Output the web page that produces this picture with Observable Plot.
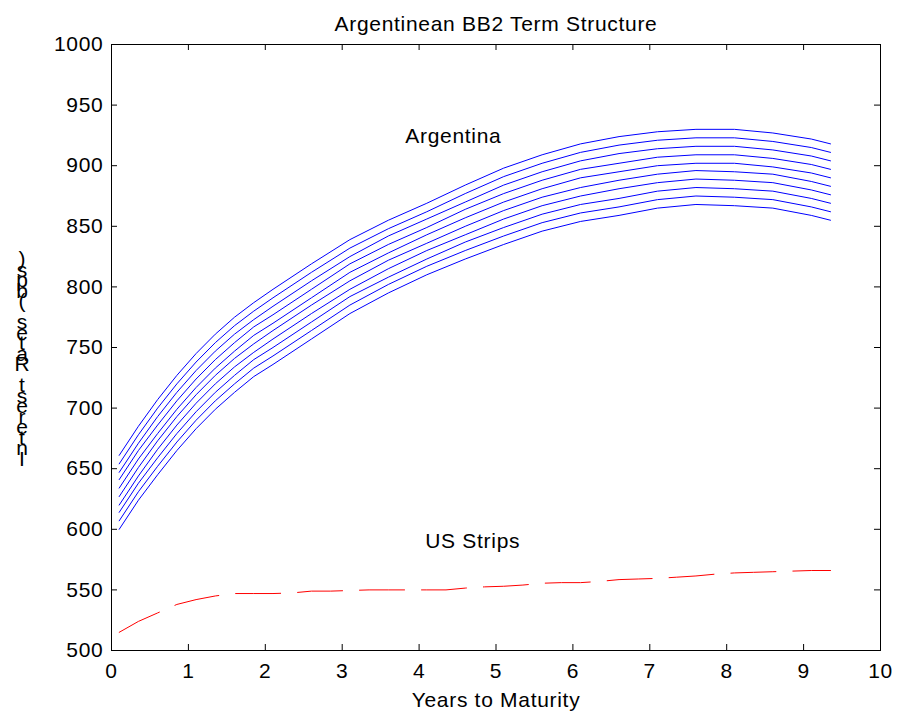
<!DOCTYPE html>
<html>
<head>
<meta charset="utf-8">
<script src="https://cdn.jsdelivr.net/npm/d3@7"></script>
<script src="https://cdn.jsdelivr.net/npm/@observablehq/plot@0.6"></script>
<style>
  body { margin: 0; background: #fff; }
  #wrap { position: relative; width: 898px; height: 717px; font-family: "Liberation Sans", Arial, sans-serif; }
  #ylab { position: absolute; left: 14px; top: 254px; display: flex; flex-direction: column-reverse; font-size: 21px; color: #000; }
  #ylab span { display: block; height: 10.5px; line-height: 10.5px; white-space: pre; text-align: center; width: 16px; }
</style>
</head>
<body>
<div id="wrap"></div>
<script>
// ---- data ----
const titleText = "Argentinean BB2 Term Structure";
const xLabelText = "Years to Maturity";
const yLabelText = "Interest Rates (bps)";

const xTicks = [0, 1, 2, 3, 4, 5, 6, 7, 8, 9, 10];
const yTicks = [500, 550, 600, 650, 700, 750, 800, 850, 900, 950, 1000];

// Argentina curves (years to maturity)
const argYears = [0.1, 0.35, 0.6, 0.85, 1.1, 1.35, 1.6, 1.85, 2.1, 2.6, 3.1, 3.6, 4.1, 4.6, 5.1, 5.6, 6.1, 6.6, 7.1, 7.6, 8.1, 8.6, 9.1, 9.35];
const arg1  = [661,685,707,727,745,761,775,787,798,819,839,855,869,884,898,909,918,924,928,930,930,927,922,918];
const arg2  = [654,678,700,720,738,754,768,780,791,812,832,848,862,877,891,902,911,917,921,923,923,920,915,911];
const arg3  = [647,671,693,713,731,747,761,773,784,805,825,842,856,870,884,895,904,910,914,916,916,913,908,904];
const arg4  = [641,665,686,706,724,740,754,767,777,798,819,835,849,864,877,888,897,902,907,909,909,906,901,897];
const arg5  = [634,658,679,699,717,733,747,760,770,791,812,828,843,857,870,881,890,895,900,902,902,899,894,890];
const arg6  = [627,651,673,693,711,727,741,753,764,785,805,822,836,850,863,874,882,888,893,896,895,893,887,883];
const arg7  = [620,644,666,686,704,720,734,746,757,778,798,815,830,843,856,867,875,881,886,889,888,886,880,876];
const arg8  = [614,638,659,679,697,713,727,740,750,771,792,808,823,837,849,860,868,873,879,882,881,879,873,869];
const arg9  = [607,631,652,672,690,706,720,733,743,764,785,802,817,830,842,853,861,866,872,875,874,872,866,862];
const arg10 = [600,624,645,665,683,699,713,726,736,757,778,795,810,823,835,846,854,859,865,868,867,865,859,855];

// US Strips curve
const usYears = [0.1,0.35,0.6,0.85,1.1,1.35,1.6,1.85,2.1,2.35,2.6,2.85,3.1,3.35,3.6,3.85,4.1,4.35,4.6,4.85,5.1,5.35,5.6,5.85,6.1,6.35,6.6,6.85,7.1,7.35,7.6,7.85,8.1,8.35,8.6,8.85,9.1,9.35];
const usStrips = [515,524,531,538,542,545,547,547,547,547.5,549,549,549.5,550,550,550,550,550,551.5,552.5,553,554,555.5,556,556,557,558.5,559,559.5,560.5,561.5,563,564,564.5,565,565.5,566,566];

const labelNames = ["Argentina", "US Strips"];
const labelX = [3.82, 4.08];
const labelY = [924, 590];

// ---- build tables ----
const argSeries = [arg1, arg2, arg3, arg4, arg5, arg6, arg7, arg8, arg9, arg10];
const argRows = argSeries.flatMap((vals, i) => vals.map((v, j) => ({curve: i, year: argYears[j], bps: v})));
const usRows = usStrips.map((v, j) => ({year: usYears[j], bps: v}));
const labels = labelNames.map((t, i) => ({text: t, x: labelX[i], y: labelY[i]}));

const fmt = d3.format("d");

const chart = Plot.plot({
  width: 898,
  height: 717,
  marginLeft: 111,
  marginRight: 18,
  marginTop: 44,
  marginBottom: 67,
  style: {fontFamily: "'Liberation Sans', Arial, sans-serif", fontSize: "21px", background: "white", color: "black", letterSpacing: "0.7px"},
  x: {domain: [0, 10]},
  y: {domain: [500, 1000]},
  marks: [
    Plot.line(argRows, {x: "year", y: "bps", z: "curve", stroke: "#0000ff", strokeWidth: 1}),
    Plot.line(usRows, {x: "year", y: "bps", stroke: "#ff0000", strokeWidth: 1, strokeDasharray: "45,17"}),
    Plot.frame({stroke: "black", strokeWidth: 1}),
    Plot.axisX(xTicks, {tickSize: 0, tickPadding: 13, label: null, tickFormat: fmt, fill: "black"}),
    Plot.axisY(yTicks, {tickSize: 0, tickPadding: 8, label: null, tickFormat: fmt, fill: "black"}),
    Plot.tickX(xTicks, {x: d => d, insetTop: 600, stroke: "black"}),
    Plot.tickX(xTicks, {x: d => d, insetBottom: 600, stroke: "black"}),
    Plot.tickY(yTicks, {y: d => d, insetRight: 763, stroke: "black"}),
    Plot.tickY(yTicks, {y: d => d, insetLeft: 763, stroke: "black"}),
    Plot.text(labels, {x: "x", y: "y", text: "text", textAnchor: "start", fill: "black"}),
    Plot.text([titleText], {frameAnchor: "top", dy: -28, text: d => d, fill: "black"}),
    Plot.text([xLabelText], {frameAnchor: "bottom", dy: 56, text: d => d, fill: "black"})
  ]
});

const wrap = document.getElementById("wrap");
wrap.appendChild(chart);
const ylab = document.createElement("div");
ylab.id = "ylab";
for (const ch of yLabelText) {
  const s = document.createElement("span");
  s.textContent = ch;
  ylab.appendChild(s);
}
wrap.appendChild(ylab);
</script>
</body>
</html>
